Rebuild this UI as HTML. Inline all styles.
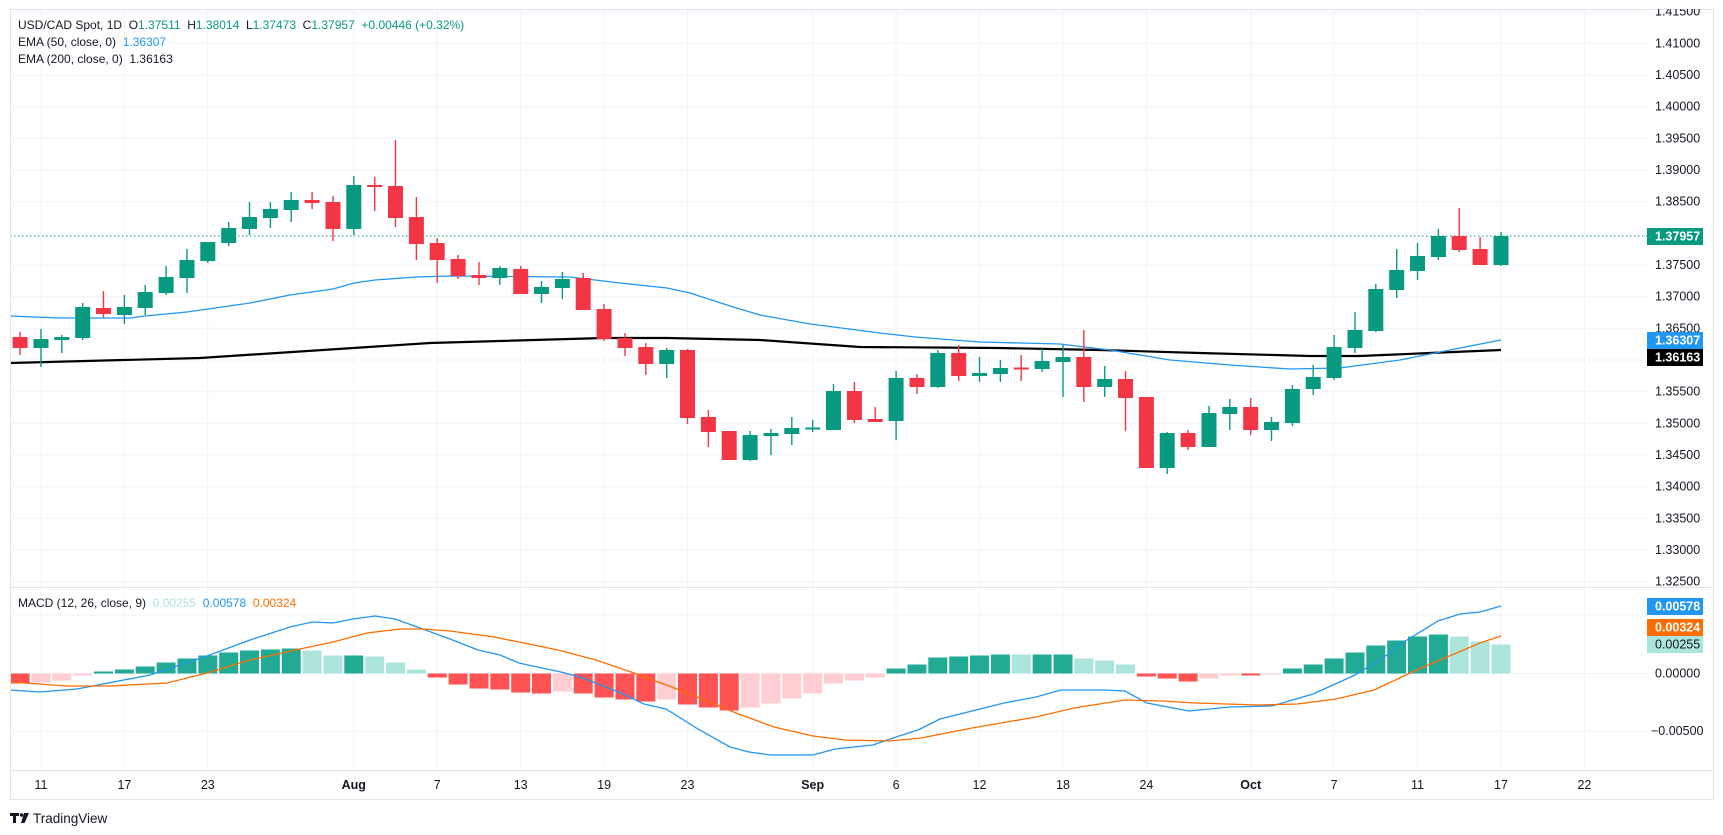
<!DOCTYPE html>
<html><head><meta charset="utf-8"><style>
html,body{margin:0;padding:0;background:#fff;}
svg{display:block;font-family:"Liberation Sans",sans-serif;}
.pre{white-space:pre;}
</style></head><body>
<svg width="1723" height="835" viewBox="0 0 1723 835" xmlns="http://www.w3.org/2000/svg">
<defs>
<clipPath id="cp1"><rect x="10" y="9" width="1637" height="578"/></clipPath>
<clipPath id="cp2"><rect x="10" y="588" width="1637" height="182"/></clipPath>
<clipPath id="cpa"><rect x="1647" y="9" width="66" height="578"/></clipPath>
</defs>
<rect width="1723" height="835" fill="#fff"/>
<g stroke="#f0f3fa" stroke-width="1">
<path d="M10 11.7H1647M10 43.3H1647M10 75H1647M10 106.7H1647M10 138.3H1647M10 170H1647M10 201.7H1647M10 233.3H1647M10 265H1647M10 296.7H1647M10 328.3H1647M10 360H1647M10 391.7H1647M10 423.3H1647M10 455H1647M10 486.7H1647M10 518.3H1647M10 550H1647M10 581.7H1647"/>
<path d="M10 615H1647M10 673.5H1647M10 731H1647"/>
<path d="M41 9V770M124.4 9V770M207.8 9V770M353.8 9V770M437.2 9V770M520.7 9V770M604.1 9V770M687.5 9V770M812.7 9V770M896.1 9V770M979.5 9V770M1063 9V770M1146.4 9V770M1250.7 9V770M1334.1 9V770M1417.5 9V770M1501 9V770M1584.4 9V770"/>
</g>
<g clip-path="url(#cp1)">
<polyline fill="none" stroke="#000" stroke-width="2.2" points="10,363 200,358 430,343 604,338 667,338 760,340 860,347 1000,348 1100,350 1200,353 1310,356 1360,356 1430,353 1501,350"/>
<polyline fill="none" stroke="#2196f3" stroke-width="1.3" points="10,316 60,318 130,318 145,316 187,312 250,303 290,295 333,289 354,283 375,280 416,277 450,276 570,277 620,283 667,288 690,293 730,306 760,315 810,324 880,333 915,337 980,342 1060,344 1110,350 1170,360 1230,365 1290,369 1340,368 1400,360 1450,350 1501,340"/>
<path d="M10 236H1647" stroke="#089981" stroke-width="1" stroke-dasharray="1.5 2.5"/>
<path stroke="#f23645" stroke-width="1.4" fill="none" d="M20.1 332V355M103.5 291V318M312.1 192V209M333 196V241M374.7 177V211M395.5 140V227M416.4 197V260M437.2 238V283M458.1 255V279M479 262V285M520.7 266V294M583.2 273V310M604.1 304V341M625 333V356M645.8 343V375M687.5 349V424M708.4 410V447M729.2 431V460M854.4 382V423M875.2 407V422M917 374V394M958.7 345V381M1021.2 355V381M1083.8 330V402M1125.5 371V431M1146.4 397V468M1188.1 430V450M1250.7 398V435M1459.2 208V252M1480.1 237V265"/>
<path fill="#f23645" d="M12.6 337h15v11h-15zM96 308h15v6h-15zM304.6 200h15v3h-15zM325.5 202h15v27h-15zM367.2 185h15v2h-15zM388 186h15v32h-15zM408.9 217h15v27h-15zM429.7 243h15v17h-15zM450.6 259h15v17h-15zM471.5 275h15v3h-15zM513.2 269h15v25h-15zM575.7 278h15v32h-15zM596.6 309h15v30h-15zM617.5 338h15v10h-15zM638.3 347h15v17h-15zM680 350h15v68h-15zM700.9 417h15v15h-15zM721.7 431h15v29h-15zM846.9 391h15v29h-15zM867.7 419h15v3h-15zM909.5 378h15v9h-15zM951.2 353h15v23h-15zM1013.7 367.5h15v2h-15zM1076.3 357h15v30h-15zM1118 379h15v19h-15zM1138.9 397h15v71h-15zM1180.6 433h15v14h-15zM1243.2 407h15v23h-15zM1451.7 236h15v14h-15zM1472.6 249h15v16h-15z"/>
<path stroke="#089981" stroke-width="1.4" fill="none" d="M41 329V367M61.8 335V353M82.7 303V340M124.4 295V324M145.2 285V315M166.1 266V295M187 249V293M207.8 242V263M228.7 222V246M249.5 202V235M270.4 202V228M291.2 192V222M353.8 176V235M499.8 266V285M541.5 281V303M562.4 272V299M666.7 348V378M750.1 431V461M771 429V455M791.8 417V445M812.7 420V432M833.5 384V430M896.1 371V440M937.8 350V388M979.5 357V382M1000.4 360V382M1042.1 349V372M1063 345V397M1104.7 366V397M1167.2 432V474M1209 406V447M1229.8 399V430M1271.5 417V441M1292.4 385V426M1313.2 365V395M1334.1 335V380M1355 312V353M1375.8 284V332M1396.7 249V298M1417.5 243V280M1438.4 229V260M1501 232V266"/>
<path fill="#089981" d="M33.5 339h15v9h-15zM54.3 337h15v3h-15zM75.2 307h15v31h-15zM116.9 307h15v8h-15zM137.7 292h15v16h-15zM158.6 277h15v16h-15zM179.5 260h15v18h-15zM200.3 242h15v19h-15zM221.2 228h15v15h-15zM242 217h15v12h-15zM262.9 209h15v9h-15zM283.7 200h15v10h-15zM346.3 185h15v44h-15zM492.3 268h15v10h-15zM534 287h15v7h-15zM554.9 279h15v9h-15zM659.2 350h15v14h-15zM742.6 435h15v25h-15zM763.5 433h15v3h-15zM784.3 428h15v6h-15zM805.2 427.5h15v2h-15zM826 391h15v39h-15zM888.6 378h15v43h-15zM930.3 353h15v34h-15zM972 373h15v3h-15zM992.9 368h15v6h-15zM1034.6 361h15v8h-15zM1055.5 357h15v5h-15zM1097.2 379h15v8h-15zM1159.7 433h15v35h-15zM1201.5 413h15v34h-15zM1222.3 407h15v7h-15zM1264 422h15v8h-15zM1284.9 389h15v34h-15zM1305.7 377h15v12h-15zM1326.6 347h15v31h-15zM1347.5 330h15v18h-15zM1368.3 289h15v42h-15zM1389.2 270h15v20h-15zM1410 256h15v15h-15zM1430.9 236h15v21h-15zM1493.5 236h15v29h-15z"/>
</g>
<g clip-path="url(#cp2)">
<path fill="#22ab94" d="M94 673.5v-2h19V673.5zM114.9 673.5v-4h19V673.5zM135.7 673.5v-7h19V673.5zM156.6 673.5v-11h19V673.5zM177.5 673.5v-15h19V673.5zM198.3 673.5v-18h19V673.5zM219.2 673.5v-21h19V673.5zM240 673.5v-23h19V673.5zM260.9 673.5v-24h19V673.5zM281.7 673.5v-25h19V673.5zM344.3 673.5v-18h19V673.5zM886.6 673.5v-5h19V673.5zM907.5 673.5v-9h19V673.5zM928.3 673.5v-16h19V673.5zM949.2 673.5v-17h19V673.5zM970 673.5v-18h19V673.5zM990.9 673.5v-19h19V673.5zM1032.6 673.5v-19h19V673.5zM1053.5 673.5v-19h19V673.5zM1282.9 673.5v-5h19V673.5zM1303.7 673.5v-9h19V673.5zM1324.6 673.5v-15h19V673.5zM1345.5 673.5v-21h19V673.5zM1366.3 673.5v-28h19V673.5zM1387.2 673.5v-33h19V673.5zM1408 673.5v-37h19V673.5zM1428.9 673.5v-39h19V673.5z"/>
<path fill="#ace5dc" d="M302.6 673.5v-23h19V673.5zM323.5 673.5v-18h19V673.5zM365.2 673.5v-17h19V673.5zM386 673.5v-11h19V673.5zM406.9 673.5v-4h19V673.5zM1011.7 673.5v-19h19V673.5zM1074.3 673.5v-15h19V673.5zM1095.2 673.5v-13h19V673.5zM1116 673.5v-9h19V673.5zM1449.7 673.5v-37h19V673.5zM1470.6 673.5v-32h19V673.5zM1491.5 673.5v-29h19V673.5z"/>
<path fill="#ff5252" d="M10.6 673.5v10h19V673.5zM427.7 673.5v4h19V673.5zM448.6 673.5v11h19V673.5zM469.5 673.5v15h19V673.5zM490.3 673.5v16h19V673.5zM511.2 673.5v19h19V673.5zM532 673.5v20h19V673.5zM573.7 673.5v20h19V673.5zM594.6 673.5v24h19V673.5zM615.5 673.5v26h19V673.5zM636.3 673.5v28h19V673.5zM678 673.5v31h19V673.5zM698.9 673.5v34h19V673.5zM719.7 673.5v37h19V673.5zM1136.9 673.5v3h19V673.5zM1157.7 673.5v5h19V673.5zM1178.6 673.5v8h19V673.5zM1241.2 673.5v2h19V673.5z"/>
<path fill="#ffcdd2" d="M31.5 673.5v9h19V673.5zM52.3 673.5v7h19V673.5zM73.2 673.5v2h19V673.5zM552.9 673.5v18h19V673.5zM657.2 673.5v26h19V673.5zM740.6 673.5v34h19V673.5zM761.5 673.5v30h19V673.5zM782.3 673.5v25h19V673.5zM803.2 673.5v20h19V673.5zM824 673.5v10h19V673.5zM844.9 673.5v7h19V673.5zM865.7 673.5v4h19V673.5zM1199.5 673.5v5h19V673.5zM1220.3 673.5v2h19V673.5zM1262 673.5v1h19V673.5z"/>
<polyline fill="none" stroke="#2196f3" stroke-width="1.3" points="10,690 40,692 77,689 150,675 207,656 250,640 290,627 312,622 333,623 353,619 375,616 395,619 420,628 450,639 478,650 500,655 519,663 542,668 561,672 583,678 621,693 644,704 666,709 698,729 730,747 749,752 771,755 813,755 835,749 873,745 896,737 918,730 940,719 972,711 1004,703 1036,697 1061,690 1103,690 1125,691 1147,703 1189,711 1230,707 1272,706 1313,694 1355,675 1380,660 1407,640 1438,621 1460,614 1480,612 1501,606"/>
<polyline fill="none" stroke="#ff6d00" stroke-width="1.3" points="10,682 67,686 110,686 167,683 207,673 250,660 300,649 333,642 367,633 400,629 423,629 450,631 494,637 558,650 596,660 634,673 685,692 736,713 774,727 813,736 845,740 889,741 921,738 972,728 1036,717 1074,708 1125,700 1163,701 1195,703 1259,705 1297,704 1336,699 1374,690 1410,673 1447,657 1480,643 1501,636"/>
</g>
<g stroke="#e0e3eb" stroke-width="1" fill="none">
<rect x="10.5" y="9.5" width="1703" height="790"/>
<path d="M10 587.5H1713M10 770.5H1713"/>
</g>
<g font-size="12.5" fill="#131722" dominant-baseline="central" clip-path="url(#cpa)">
<text x="1655" y="11.7">1.41500</text><text x="1655" y="43.3">1.41000</text><text x="1655" y="75">1.40500</text><text x="1655" y="106.7">1.40000</text><text x="1655" y="138.3">1.39500</text><text x="1655" y="170">1.39000</text><text x="1655" y="201.7">1.38500</text><text x="1655" y="265">1.37500</text><text x="1655" y="296.7">1.37000</text><text x="1655" y="328.3">1.36500</text><text x="1655" y="391.7">1.35500</text><text x="1655" y="423.3">1.35000</text><text x="1655" y="455">1.34500</text><text x="1655" y="486.7">1.34000</text><text x="1655" y="518.3">1.33500</text><text x="1655" y="550">1.33000</text><text x="1655" y="581.7">1.32500</text>
</g>
<g font-size="12.5" fill="#131722" dominant-baseline="central">
<text x="1655" y="673.5">0.00000</text><text x="1651" y="731">−0.00500</text>
</g>
<g font-size="12.5" font-weight="bold" dominant-baseline="central">
<rect x="1647" y="228" width="56" height="17" fill="#089981"/><text x="1655" y="236.5" fill="#fff">1.37957</text>
<rect x="1647" y="332" width="56" height="17" fill="#2196f3"/><text x="1655" y="340.5" fill="#fff">1.36307</text>
<rect x="1647" y="349" width="56" height="17" fill="#000"/><text x="1655" y="357.5" fill="#fff">1.36163</text>
<rect x="1647" y="598" width="56" height="17" fill="#2196f3"/><text x="1655" y="606.5" fill="#fff">0.00578</text>
<rect x="1647" y="619" width="56" height="17" fill="#ff6d00"/><text x="1655" y="627.5" fill="#fff">0.00324</text>
<rect x="1647" y="636" width="56" height="17" fill="#ace5dc"/><text x="1655" y="644.5" fill="#131722" font-weight="normal">0.00255</text>
</g>
<g font-size="12.5" fill="#131722" text-anchor="middle" dominant-baseline="central">
<text x="41" y="785">11</text><text x="124.4" y="785">17</text><text x="207.8" y="785">23</text><text x="353.8" y="785" font-weight="bold">Aug</text><text x="437.2" y="785">7</text><text x="520.7" y="785">13</text><text x="604.1" y="785">19</text><text x="687.5" y="785">23</text><text x="812.7" y="785" font-weight="bold">Sep</text><text x="896.1" y="785">6</text><text x="979.5" y="785">12</text><text x="1063" y="785">18</text><text x="1146.4" y="785">24</text><text x="1250.7" y="785" font-weight="bold">Oct</text><text x="1334.1" y="785">7</text><text x="1417.5" y="785">11</text><text x="1501" y="785">17</text><text x="1584.4" y="785">22</text>
</g>
<g font-size="12" fill="#131722" class="pre">
<text class="pre" x="18" y="29">USD/CAD Spot, 1D  O<tspan fill="#089981">1.37511</tspan>  H<tspan fill="#089981">1.38014</tspan>  L<tspan fill="#089981">1.37473</tspan>  C<tspan fill="#089981">1.37957</tspan>  <tspan fill="#089981">+0.00446 (+0.32%)</tspan></text>
<text class="pre" x="18" y="46">EMA (50, close, 0)  <tspan fill="#2196f3">1.36307</tspan></text>
<text class="pre" x="18" y="63">EMA (200, close, 0)  1.36163</text>
<text class="pre" x="18" y="607">MACD (12, 26, close, 9)  <tspan fill="#ace5dc">0.00255</tspan>  <tspan fill="#2196f3">0.00578</tspan>  <tspan fill="#ff6d00">0.00324</tspan></text>
</g>
<g fill="#131722">
<path d="M10 813h9v3h-3v7h-3v-7h-3z"/>
<circle cx="21.5" cy="815" r="1.7"/>
<path d="M24 813h5l-4.5 10h-3.5z"/>
</g>
<text x="33" y="823" font-size="13.5" fill="#131722">TradingView</text>
</svg>
</body></html>
